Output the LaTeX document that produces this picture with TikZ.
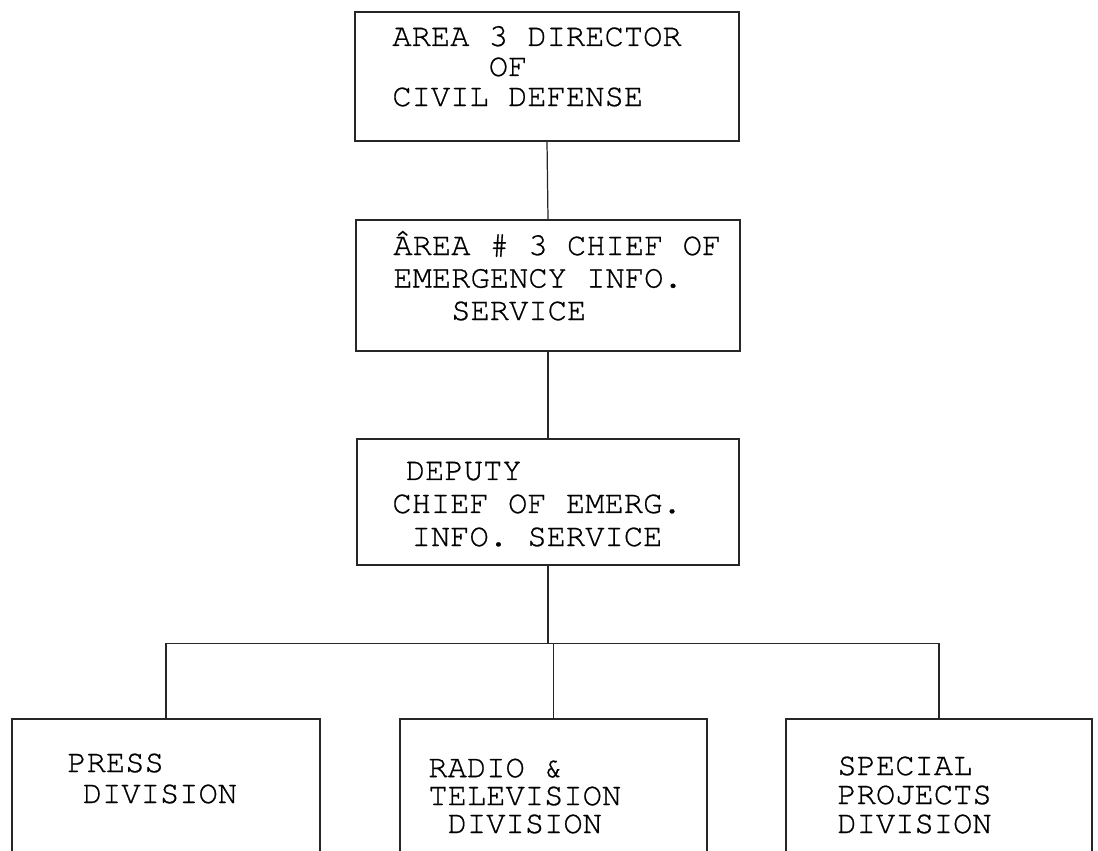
\documentclass[tikz,border=0pt]{standalone}
\usepackage{fontspec}
\newfontfamily\typewriter{texgyrecursor-regular.otf}[FakeBold=0.7]
\newlength{\typepitch}
\setlength{\typepitch}{0.386cm}
\newcommand{\typeindent}[1]{\hspace*{#1\typepitch}}

\begin{document}
\begin{tikzpicture}[x=0.02cm,y=-0.02cm,
    orgbox/.style={draw=black!85,line width=0.7pt,inner sep=0pt},
    link/.style={draw=black!85,line width=0.7pt},
    typed/.style={font=\typewriter\fontsize{18.3}{#1}\selectfont,align=left,anchor=base west,inner sep=0pt}]
    \useasboundingbox[fill=white] (0,0) rectangle (1098,850);

    % upper chain
    \node[orgbox,minimum width=7.68cm,minimum height=2.58cm] (dir) at (547,76.5) {};
    \node[orgbox,minimum width=7.68cm,minimum height=2.62cm] (chief) at (548,285.5) {};
    \node[orgbox,minimum width=7.64cm,minimum height=2.52cm] (deputy) at (548,502) {};

    % divisions (open at the bottom edge)
    \node[orgbox,minimum width=6.16cm,minimum height=3.22cm] (press) at (166,799.5) {};
    \node[orgbox,minimum width=6.14cm,minimum height=3.22cm] (radio) at (553.5,799.5) {};
    \node[orgbox,minimum width=6.12cm,minimum height=3.22cm] (special) at (939,799.5) {};

    \draw[link] (dir.south) -- (chief.north);
    \draw[link] (chief.south) -- (deputy.north);
    \path (deputy.south) ++(0,78) coordinate (fork);
    \draw[link] (deputy.south) -- (fork);
    \draw[link] (press.north) -- (press.north |- fork) -- (special.north |- fork) -- (special.north);
    \draw[link] (radio.north) -- (radio.north |- fork);

    % typed labels (placed at the baseline of the last line)
    \node[typed=17.1pt] (dirtext) at (392,106) {AREA 3 DIRECTOR\\\typeindent{5}OF\\CIVIL DEFENSE};
    \node[typed=18.5pt] (chieftext) at (393,320) {ÂREA \# 3 CHIEF OF\\EMERGENCY INFO.\\\typeindent{3}SERVICE};
    \node[typed=18.8pt] (deputytext) at (392,546) {\typeindent{0.7}DEPUTY\\CHIEF OF EMERG.\\\typeindent{1}INFO. SERVICE};
    \node[typed=17.6pt] (presstext) at (67,803) {PRESS\\\typeindent{0.8}DIVISION};
    \node[typed=15.9pt] (radiotext) at (428,833) {RADIO \&\\TELEVISION\\\typeindent{1}DIVISION};
    \node[typed=16.5pt] (specialtext) at (837,833) {SPECIAL\\PROJECTS\\DIVISION};
\end{tikzpicture}
\end{document}
